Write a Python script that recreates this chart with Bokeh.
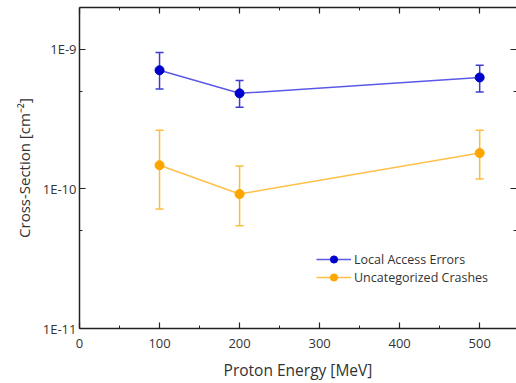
from bokeh.plotting import figure
from bokeh.models import (ColumnDataSource, Whisker, TeeHead, FixedTicker, LinearAxis,
                          LogAxis, Legend, LegendItem, CustomJSTickFormatter, Range1d)
from bokeh.embed import file_html
from bokeh.resources import INLINE

# ---- data ----
energy = [100, 200, 500]
local_access = [7.1e-10, 4.85e-10, 6.3e-10]
local_access_hi = [9.5e-10, 6.0e-10, 7.7e-10]
local_access_lo = [5.2e-10, 3.85e-10, 4.95e-10]
crashes = [1.48e-10, 9.2e-11, 1.81e-10]
crashes_hi = [2.64e-10, 1.46e-10, 2.64e-10]
crashes_lo = [7.2e-11, 5.45e-11, 1.18e-10]
y_ticks = [1e-11, 1e-10, 1e-9]
y_minor = [5e-11, 5e-10, 5e-9]
y_tick_labels = ["1E-11", "1E-10", "1E-9"]
x_ticks = [0, 100, 200, 300, 400, 500]
x_minor = [50, 150, 250, 350, 450, 550]
series_names = ["Local Access Errors", "Uncategorized Crashes"]

FONT = "Open Sans"
TXT = "#333333"
AX = "#222222"

p = figure(width=516, height=383, output_backend="svg", toolbar_location=None,
           y_axis_type="log", x_range=Range1d(0, 546), y_range=Range1d(1e-11, 2e-9),
           min_border_left=79, min_border_right=0, min_border_top=7, min_border_bottom=53,
           x_axis_location=None, y_axis_location=None)
p.outline_line_color = None
p.grid.visible = False
p.background_fill_color = "white"


def style_axis(ax):
    ax.axis_line_color = AX
    ax.axis_line_width = 1.5
    ax.major_tick_line_color = AX
    ax.minor_tick_line_color = AX
    ax.major_tick_line_width = 1.2
    ax.minor_tick_line_width = 1.0
    ax.major_tick_in = 6
    ax.major_tick_out = 0
    ax.minor_tick_in = 3
    ax.minor_tick_out = 0
    ax.major_label_text_font = FONT
    ax.major_label_text_font_size = "13px"
    ax.major_label_text_color = TXT
    ax.axis_label_text_font = FONT
    ax.axis_label_text_font_size = "15.5px"
    ax.axis_label_text_font_style = "normal"
    ax.axis_label_text_color = TXT


fmt = CustomJSTickFormatter(args=dict(vals=y_ticks, labs=y_tick_labels), code="""
for (let i = 0; i < vals.length; i++) {
  if (Math.abs(Math.log10(tick) - Math.log10(vals[i])) < 1e-6) return labs[i];
}
return '';
""")
blank = CustomJSTickFormatter(code="return '';")

xt = FixedTicker(ticks=x_ticks, minor_ticks=x_minor)
yt = FixedTicker(ticks=y_ticks, minor_ticks=y_minor)

xb = LinearAxis(ticker=xt, axis_label="Proton Energy [MeV]")
style_axis(xb)
xb.major_label_standoff = 10
xb.axis_label_standoff = 8
p.add_layout(xb, "below")

yl = LogAxis(ticker=yt, formatter=fmt, axis_label="Cross-Section [cm\u207b\u00b2]")
style_axis(yl)
yl.axis_label_text_font_size = "15px"
yl.major_label_standoff = 3
yl.axis_label_standoff = 6
p.add_layout(yl, "left")

xa = LinearAxis(ticker=xt, formatter=blank)
style_axis(xa)
xa.major_label_standoff = 0
p.add_layout(xa, "above")

yr = LogAxis(ticker=yt, formatter=blank)
style_axis(yr)
yr.axis_line_color = None
yr.major_label_standoff = 0
p.add_layout(yr, "right")

# ---- series ----
specs = [
    (local_access, local_access_hi, local_access_lo, "#0000CC", "#5a5ae6", "#3c3cd2"),
    (crashes, crashes_hi, crashes_lo, "#FFA500", "#FFC04A", "#FFBB3A"),
]
items = []
for (vals, hi, lo, mcol, lcol, ecol), name in zip(specs, series_names):
    src = ColumnDataSource(dict(x=energy, y=vals, upper=hi, lower=lo))
    r_line = p.line("x", "y", source=src, line_color=lcol, line_width=1.5)
    w = Whisker(source=src, base="x", upper="upper", lower="lower", dimension="height",
                line_color=ecol, line_width=1.5)
    w.upper_head = TeeHead(size=8, line_color=ecol, line_width=1.5)
    w.lower_head = TeeHead(size=8, line_color=ecol, line_width=1.5)
    p.add_layout(w)
    r_pt = p.scatter("x", "y", source=src, size=9, fill_color=mcol, line_color=mcol)
    items.append(LegendItem(label=name, renderers=[r_line, r_pt]))

leg = Legend(items=items, location=(237, 42), padding=0, margin=0, spacing=0,
             label_height=18, glyph_height=18, glyph_width=35, label_standoff=3,
             label_text_font=FONT, label_text_font_size="12.5px", label_text_color=TXT,
             border_line_color=None, background_fill_alpha=0)
p.add_layout(leg, "center")

open("out.html", "w").write(file_html(p, INLINE))
